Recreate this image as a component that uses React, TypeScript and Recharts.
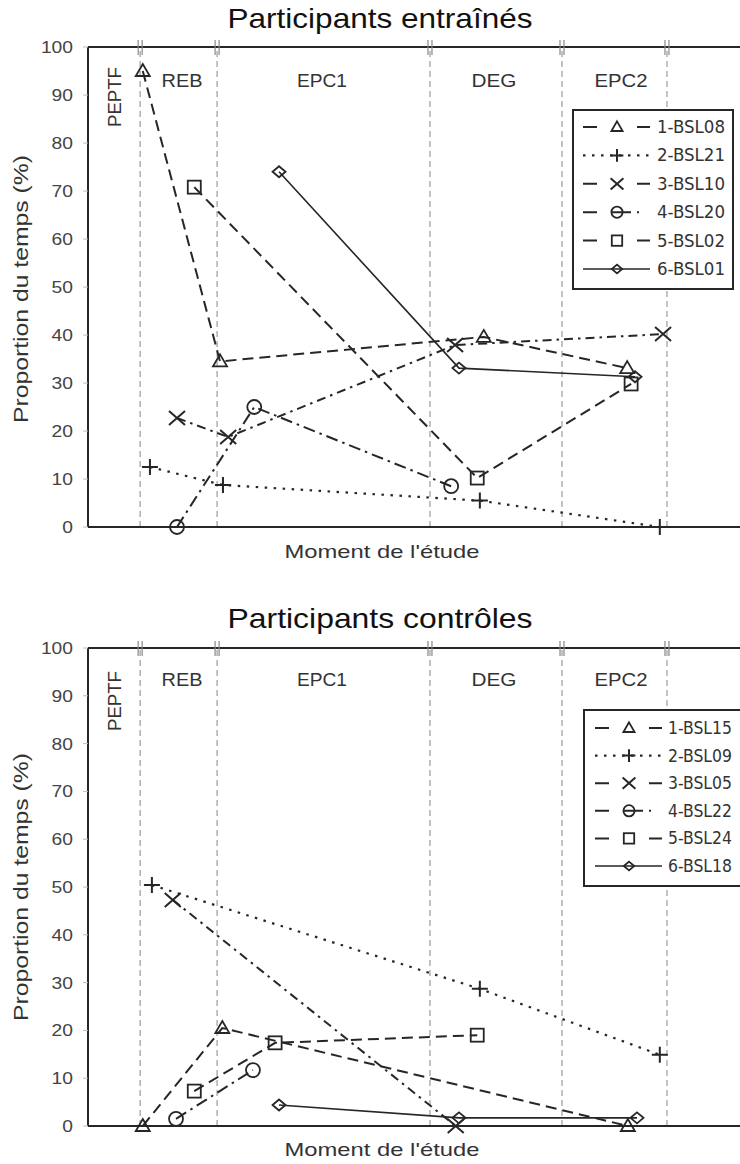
import React from "react";
import { LineChart, Line, XAxis, YAxis, ReferenceLine, ReferenceDot } from "recharts";

const INK = "#262626";
const FONT = "'Liberation Sans', Arial, sans-serif";
const NARROW = "'Liberation Sans Narrow', 'DejaVu Sans Condensed', sans-serif";

// study moments (x axis is a continuous 0-100 time scale)
const phaseBounds = [8.0, 19.8, 52.45, 72.7, 88.8];
const phaseLabels = ["REB", "EPC1", "DEG", "EPC2"];
const yTicks = [0, 10, 20, 30, 40, 50, 60, 70, 80, 90, 100];

const markerKinds = ["triangle", "plus", "cross", "circle", "square", "diamond"];
const dashes = ["11 6", "2.5 6.5", "9 5 2.5 5", "12 5 2.5 5", "11 6", undefined];
const legendDashes = ["14 40 13", "2.5 6.5", "14 40 13", "14 14 20 6 2 11", "14 40 13", undefined];
const widths = [2, 2.2, 2, 2, 2, 1.6];

// Participants entraînés
const trainedNames = ["1-BSL08", "2-BSL21", "3-BSL10", "4-BSL20", "5-BSL02", "6-BSL01"];
const trainedX = [
  [8.4, 20.25, 60.7, 82.7],
  [9.5, 20.7, 60.1, 87.7],
  [13.65, 21.5, 56.3, 88.2],
  [13.65, 25.5, 55.7],
  [16.3, 59.7, 83.3],
  [29.3, 56.9, 83.9],
];
const trainedY = [
  [95, 34.5, 39.6, 33.1],
  [12.5, 8.75, 5.5, 0],
  [22.7, 18.75, 37.9, 40.2],
  [0, 25, 8.5],
  [70.8, 10.2, 29.8],
  [74, 33.1, 31.3],
];

// Participants contrôles
const controlNames = ["1-BSL15", "2-BSL09", "3-BSL05", "4-BSL22", "5-BSL24", "6-BSL18"];
const controlX = [
  [8.4, 20.6, 82.8],
  [9.8, 60.1, 87.7],
  [13.0, 56.4],
  [13.5, 25.3],
  [16.3, 28.7, 59.7],
  [29.3, 56.9, 84.2],
];
const controlY = [
  [0, 20.5, 0],
  [50.4, 28.7, 14.9],
  [47.3, 0],
  [1.5, 11.7],
  [7.3, 17.4, 19.0],
  [4.4, 1.7, 1.7],
];

function Marker({ kind, cx, cy, s = 1 }: { kind: string; cx: number; cy: number; s?: number }) {
  const st = { fill: "none", stroke: INK, strokeWidth: 1.8 };
  if (kind === "triangle")
    return <polygon points={`${cx},${cy - 7 * s} ${cx + 7 * s},${cy + 5 * s} ${cx - 7 * s},${cy + 5 * s}`} {...st} />;
  if (kind === "plus")
    return <path d={`M${cx - 8 * s},${cy}H${cx + 8 * s}M${cx},${cy - 8 * s}V${cy + 8 * s}`} {...st} strokeWidth={2} />;
  if (kind === "cross")
    return (
      <path
        d={`M${cx - 8 * s},${cy - 7 * s}L${cx + 8 * s},${cy + 7 * s}M${cx - 8 * s},${cy + 7 * s}L${cx + 8 * s},${cy - 7 * s}`}
        {...st}
        strokeWidth={2}
      />
    );
  if (kind === "circle") return <circle cx={cx} cy={cy} r={7 * s} {...st} />;
  if (kind === "square") return <rect x={cx - 6.5 * s} y={cy - 6.5 * s} width={13 * s} height={13 * s} {...st} />;
  return <polygon points={`${cx},${cy - 5.5 * s} ${cx + 6.5 * s},${cy} ${cx},${cy + 5.5 * s} ${cx - 6.5 * s},${cy}`} {...st} />;
}

function YTick(p: any) {
  const label = String(p.payload.value);
  return (
    <text
      x={p.x}
      y={p.y}
      dy={6}
      textAnchor="end"
      fontSize={17}
      fill="#444"
      fontFamily={FONT}
      textLength={label.length * 10.7}
      lengthAdjust="spacingAndGlyphs"
    >
      {label}
    </text>
  );
}

function TopMark(p: any) {
  return (
    <g stroke="#888" strokeWidth={1.2}>
      <line x1={p.cx - 2} x2={p.cx - 2} y1={p.cy - 7} y2={p.cy + 8} />
      <line x1={p.cx + 2} x2={p.cx + 2} y1={p.cy - 7} y2={p.cy + 8} />
    </g>
  );
}

function Panel({
  top,
  height,
  mTop,
  mBottom,
  names,
  xs,
  ys,
}: {
  top: number;
  height: number;
  mTop: number;
  mBottom: number;
  names: string[];
  xs: number[][];
  ys: number[][];
}) {
  return (
    <div style={{ position: "absolute", left: 0, top }}>
      <LineChart width={740} height={height} margin={{ top: mTop, right: 0, bottom: mBottom, left: 0 }}>
        <XAxis type="number" dataKey="x" domain={[0, 100]} hide />
        <YAxis
          type="number"
          domain={[0, 100]}
          ticks={yTicks}
          interval={0}
          width={88}
          axisLine={{ stroke: INK, strokeWidth: 2 }}
          tickLine={{ stroke: "#bbb" }}
          tickSize={5}
          tickMargin={10}
          tick={YTick}
        />
        {phaseBounds.map((b) => (
          <ReferenceLine key={`v${b}`} x={b} stroke="#aaa" strokeDasharray="6 4" strokeWidth={1.4} />
        ))}
        <ReferenceLine y={100} stroke={INK} strokeWidth={2} />
        <ReferenceLine y={0} stroke={INK} strokeWidth={2} />
        {phaseBounds.map((b) => (
          <ReferenceDot key={`m${b}`} x={b} y={100} r={1} shape={TopMark} />
        ))}
        {names.map((n, i) => (
          <Line
            key={n}
            name={n}
            data={xs[i].map((x, j) => ({ x, y: ys[i][j] }))}
            dataKey="y"
            type="linear"
            stroke={INK}
            strokeWidth={widths[i]}
            strokeDasharray={dashes[i]}
            isAnimationActive={false}
            dot={(p: any) => <Marker key={`${n}-${p.index}`} kind={markerKinds[i]} cx={p.cx} cy={p.cy} />}
            activeDot={false}
          />
        ))}
      </LineChart>
    </div>
  );
}

function LegendBox({
  names,
  x,
  y,
  w,
  h,
  rowTop,
  rowStep,
  sampleX,
  textX,
  textLen,
}: {
  names: string[];
  x: number;
  y: number;
  w: number;
  h: number;
  rowTop: number;
  rowStep: number;
  sampleX: number;
  textX: number;
  textLen: number;
}) {
  return (
    <g>
      <rect x={x} y={y} width={w} height={h} fill="#fff" stroke={INK} strokeWidth={2} />
      {names.map((n, i) => {
        const cy = rowTop + i * rowStep;
        return (
          <g key={n}>
            <line
              x1={sampleX}
              x2={sampleX + 67}
              y1={cy}
              y2={cy}
              stroke={INK}
              strokeWidth={widths[i]}
              strokeDasharray={legendDashes[i]}
            />
            <Marker kind={markerKinds[i]} cx={sampleX + 34} cy={cy} s={0.8} />
            <text
              x={textX}
              y={cy + 6}
              fontSize={17}
              fill="#333"
              fontFamily={NARROW}
              textLength={textLen}
              lengthAdjust="spacingAndGlyphs"
            >
              {n}
            </text>
          </g>
        );
      })}
    </g>
  );
}

function PhaseText({ base, pep }: { base: number; pep: number }) {
  const centers = [182, 322, 494, 621];
  const lens = [41, 50, 45, 53];
  return (
    <g fontFamily={FONT} fill="#333" fontSize={18}>
      {phaseLabels.map((l, i) => (
        <text key={l} x={centers[i]} y={base} textAnchor="middle" textLength={lens[i]} lengthAdjust="spacingAndGlyphs">
          {l}
        </text>
      ))}
      <text
        transform={`translate(121, ${pep}) rotate(-90)`}
        textAnchor="middle"
        textLength={60}
        lengthAdjust="spacingAndGlyphs"
      >
        PEPTF
      </text>
    </g>
  );
}

export default function App() {
  return (
    <div style={{ position: "absolute", left: 0, top: 0, width: 740, height: 1164, background: "#fff" }}>
      <Panel top={0} height={600} mTop={47} mBottom={73} names={trainedNames} xs={trainedX} ys={trainedY} />
      <Panel top={600} height={564} mTop={48} mBottom={38} names={controlNames} xs={controlX} ys={controlY} />
      <svg
        width={740}
        height={1164}
        style={{ position: "absolute", left: 0, top: 0, pointerEvents: "none" }}
      >
        <g fontFamily={FONT} fill="#111">
          <text x={380} y={28} fontSize={28} textAnchor="middle" textLength={305} lengthAdjust="spacingAndGlyphs">
            Participants entraînés
          </text>
          <text x={380} y={628} fontSize={28} textAnchor="middle" textLength={305} lengthAdjust="spacingAndGlyphs">
            Participants contrôles
          </text>
        </g>
        <g fontFamily={FONT} fill="#333">
          <text x={382} y={558} fontSize={19} textAnchor="middle" textLength={195} lengthAdjust="spacingAndGlyphs">
            Moment de l'étude
          </text>
          <text x={382} y={1156} fontSize={19} textAnchor="middle" textLength={195} lengthAdjust="spacingAndGlyphs">
            Moment de l'étude
          </text>
          <text
            transform="translate(28, 289) rotate(-90)"
            fontSize={21}
            textAnchor="middle"
            textLength={268}
            lengthAdjust="spacingAndGlyphs"
          >
            Proportion du temps (%)
          </text>
          <text
            transform="translate(28, 887) rotate(-90)"
            fontSize={21}
            textAnchor="middle"
            textLength={268}
            lengthAdjust="spacingAndGlyphs"
          >
            Proportion du temps (%)
          </text>
        </g>
        <PhaseText base={87} pep={97} />
        <PhaseText base={686} pep={701} />
        <LegendBox
          names={trainedNames}
          x={573}
          y={110}
          w={160}
          h={179}
          rowTop={127}
          rowStep={28.4}
          sampleX={583}
          textX={657}
          textLen={68}
        />
        <LegendBox
          names={controlNames}
          x={584}
          y={710}
          w={170}
          h={176}
          rowTop={728}
          rowStep={27.6}
          sampleX={595}
          textX={668}
          textLen={64}
        />
      </svg>
    </div>
  );
}
